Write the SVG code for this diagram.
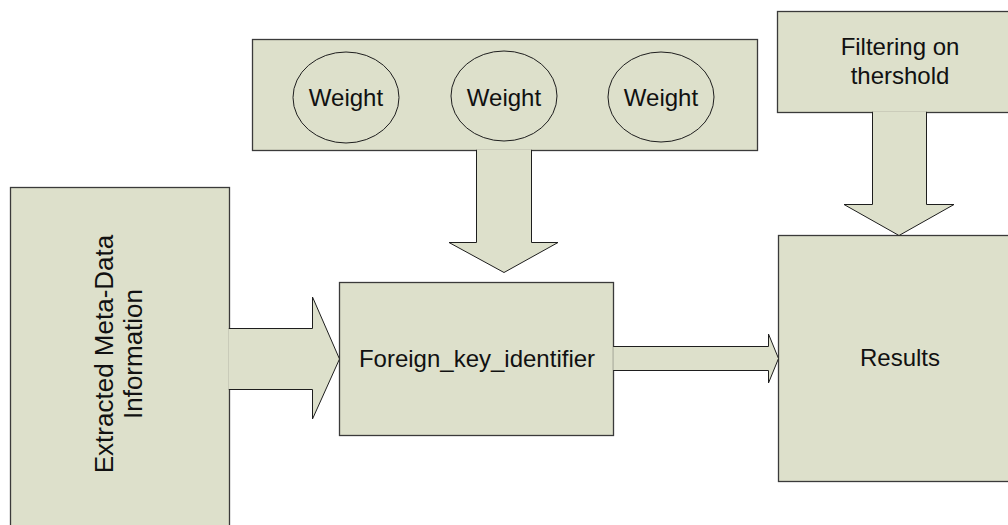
<svg xmlns="http://www.w3.org/2000/svg" width="1008" height="525" viewBox="0 0 1008 525">
<style>
.box{fill:#dde0cb;stroke:#3a3a3a;stroke-width:1.3}
.arr{fill:#dde0cb;stroke:#1e1e1e;stroke-width:1}
.ell{fill:#dde0cb;stroke:#1e1e1e;stroke-width:1}
.t{font-family:"Liberation Sans",Arial,sans-serif;font-size:24px;fill:#111;text-anchor:middle}
</style>
<rect width="1008" height="525" fill="#ffffff"/>
<g id="weights">
<rect class="box" x="252.5" y="39.5" width="505" height="111"/>
<ellipse class="ell" cx="346" cy="97.5" rx="53" ry="45.5"/>
<ellipse class="ell" cx="504" cy="96" rx="53" ry="45"/>
<ellipse class="ell" cx="661" cy="97" rx="53" ry="45"/>
<text class="t" x="346" y="106">Weight</text>
<text class="t" x="504" y="106">Weight</text>
<text class="t" x="661" y="106">Weight</text>
</g>
<g id="filter">
<rect class="box" x="777.5" y="11.5" width="240" height="101"/>
<text class="t" x="900" y="55">Filtering on</text>
<text class="t" x="900" y="84">thershold</text>
</g>
<g id="extracted">
<rect class="box" x="10.5" y="187.5" width="219" height="350"/>
<text class="t" style="font-size:26px" transform="translate(117,354) rotate(-90)"><tspan x="0" y="-4">Extracted Meta-Data</tspan><tspan x="0" y="25">Information</tspan></text>
</g>
<g id="foreign">
<rect class="box" x="339.5" y="282.5" width="274" height="153"/>
<text class="t" x="477" y="367">Foreign_key_identifier</text>
</g>
<g id="results">
<rect class="box" x="778.5" y="235.5" width="240" height="246"/>
<text class="t" x="900" y="366">Results</text>
</g>
<g id="connectors">
<path class="arr" d="M476.5,149.8 V242.5 H449 L504,272.5 L558,242.5 H531.5 V149.8"/>
<path class="arr" d="M872.5,111.8 V204.5 H844 L899,235.5 L954,204.5 H926.5 V111.8"/>
<path class="arr" d="M228.8,328.5 H312.5 V297 L339.5,359 L312.5,419 V389.5 H228.8"/>
<path class="arr" d="M613.2,346.5 H768.5 V334 L778.5,358.5 L768.5,383 V370.5 H613.2"/>
</g>
</svg>
